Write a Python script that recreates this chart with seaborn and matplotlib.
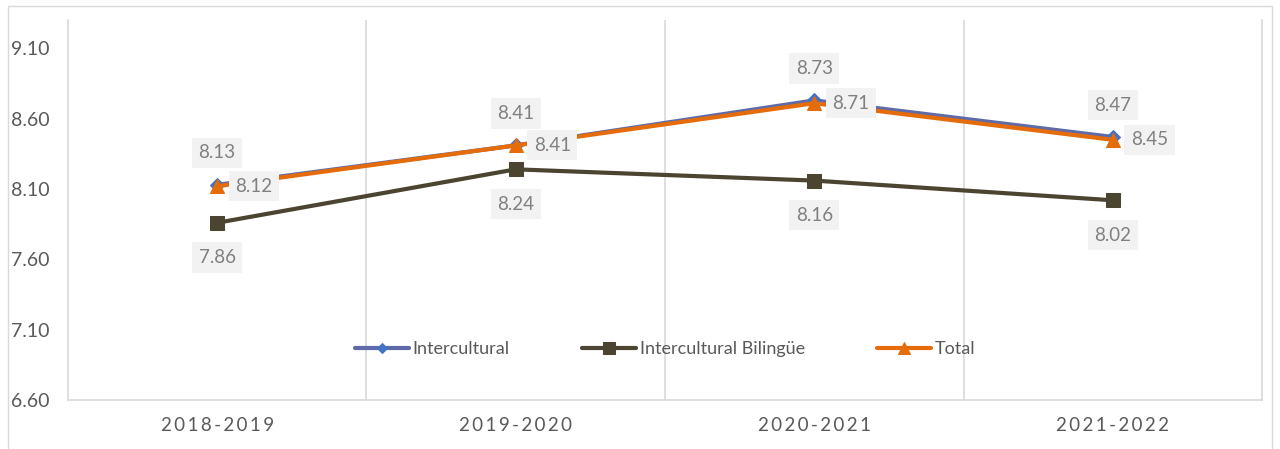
import pandas as pd
import matplotlib.pyplot as plt
import seaborn as sns

# Data
years = ['2018-2019', '2019-2020', '2020-2021', '2021-2022']
intercultural = [8.13, 8.41, 8.73, 8.47]
bilingue = [7.86, 8.24, 8.16, 8.02]
total = [8.12, 8.41, 8.71, 8.45]
yticks = [6.60, 7.10, 7.60, 8.10, 8.60, 9.10]

series_names = ['Intercultural', 'Intercultural Bilingüe', 'Total']
series_vals = [intercultural, bilingue, total]

rows = []
for name, vals in zip(series_names, series_vals):
    for i, v in enumerate(vals):
        rows.append({'pos': i, 'value': v, 'serie': name})
df = pd.DataFrame(rows)

sns.set_style('white')
plt.rcParams['font.family'] = ['Lato', 'DejaVu Sans']

fig = plt.figure(figsize=(12.8, 4.49), dpi=100)
ax = fig.add_axes([0.053, 0.109, 0.933, 0.846])

styles = {
    'Intercultural': dict(color='#5E6BA8', marker='D', mfc='#4472C4', mec='#4472C4', ms=7),
    'Intercultural Bilingüe': dict(color='#4A4430', marker='s', mfc='#4A4430', mec='#4A4430', ms=10),
    'Total': dict(color='#E46C0A', marker='^', mfc='#E46C0A', mec='#E46C0A', ms=10),
}
for name in series_names:
    st = styles[name]
    sns.lineplot(data=df[df.serie == name], x='pos', y='value', ax=ax, label=name,
                 color=st['color'], marker=st['marker'], markerfacecolor=st['mfc'],
                 markeredgecolor=st['mec'], markersize=st['ms'], linewidth=3)

# data labels
box = dict(boxstyle='square,pad=0.35', fc='#F2F2F2', ec='none')
lab_kw = dict(textcoords='offset points', fontsize=13.5, color='#808080', bbox=box)
for i, v in enumerate(intercultural):
    ax.annotate(f'{v:.2f}', (i, v), xytext=(0, 23), ha='center', va='center', **lab_kw)
for i, v in enumerate(total):
    ax.annotate(f'{v:.2f}', (i, v), xytext=(13, 0), ha='left', va='center', **lab_kw)
for i, v in enumerate(bilingue):
    ax.annotate(f'{v:.2f}', (i, v), xytext=(0, -25), ha='center', va='center', **lab_kw)

ax.set_xlim(-0.5, 3.5)
ax.set_ylim(6.6, 9.3)
ax.set_yticks(yticks)
ax.set_yticklabels([f'{t:.2f}' for t in yticks], fontsize=14, color='#595959')
ax.set_xticks(range(len(years)))
ax.set_xticklabels(['\u2009'.join(y) for y in years], fontsize=13.5, color='#595959')
ax.set_xticks([0.5, 1.5, 2.5], minor=True)
ax.tick_params(axis='both', length=0, which='both')
ax.tick_params(axis='x', pad=12)
for lbl in ax.get_yticklabels():
    lbl.set_horizontalalignment('left')
ax.yaxis.set_tick_params(pad=41)
ax.grid(False)
ax.grid(True, axis='x', which='minor', color='#D9D9D9', linewidth=1.2)
ax.set_xlabel('')
ax.set_ylabel('')
for side in ['left', 'bottom', 'right']:
    ax.spines[side].set_color('#D9D9D9')
    ax.spines[side].set_linewidth(1.2)
ax.spines['top'].set_visible(False)

leg = ax.legend(loc='center', bbox_to_anchor=(0.5, 0.134), ncol=3, frameon=False,
                fontsize=13, handlelength=3.0, handletextpad=0.2, columnspacing=4.0,
                labelcolor='#595959', markerscale=0.8)

# outer chart border
fig.patches.append(plt.Rectangle((0.006, -0.01), 0.988, 0.997, transform=fig.transFigure,
                                 fill=False, ec='#D9D9D9', lw=1))

fig.savefig('out.png', dpi=100)
